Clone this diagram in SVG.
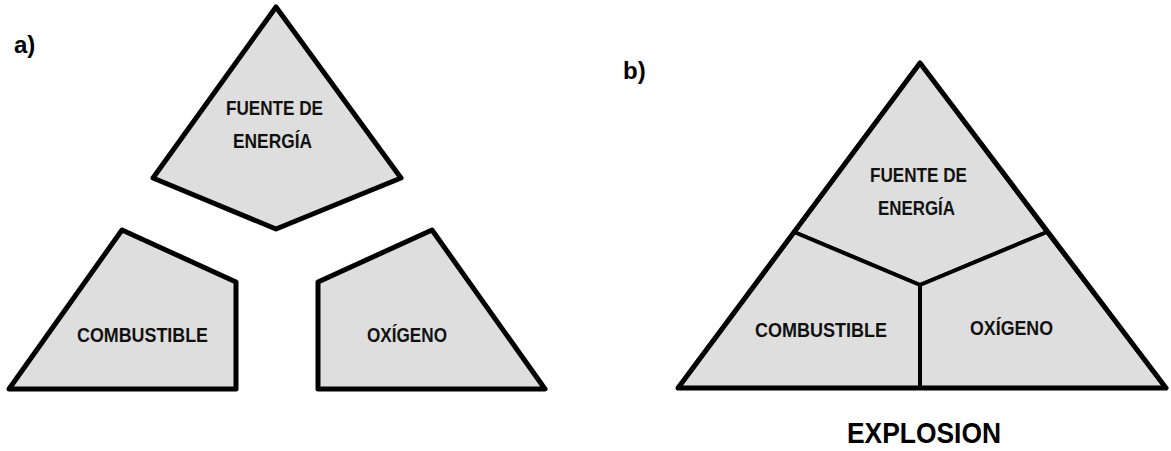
<svg xmlns="http://www.w3.org/2000/svg" width="1171" height="451" viewBox="0 0 1171 451">
<style>
.piece{fill:#dedede;stroke:#000;stroke-width:5;stroke-linejoin:round}
.div{fill:#dedede;stroke:#000;stroke-width:4;stroke-linejoin:round}
.outer{fill:none;stroke:#000;stroke-width:5;stroke-linejoin:round}
.lbl{font-family:"Liberation Sans Narrow","Liberation Sans",Arial,sans-serif;font-weight:bold;font-size:20px;fill:#111;text-anchor:middle}
.tag{font-family:"Liberation Sans","Arial",sans-serif;font-weight:bold;font-size:24px;fill:#000}
.big{font-family:"Liberation Sans Narrow","Liberation Sans",Arial,sans-serif;font-weight:bold;font-size:30px;fill:#000;text-anchor:middle}
</style>
<rect width="1171" height="451" fill="#fff"/>
<g id="label-a"><text class="tag" x="14" y="53">a)</text></g>
<g id="label-b"><text class="tag" x="623" y="79">b)</text></g>

<g id="a-fuente">
<polygon class="piece" points="276,7 401,178 276,229 153,178"/>
<text class="lbl" x="274.5" y="115" textLength="97" lengthAdjust="spacingAndGlyphs">FUENTE DE</text>
<text class="lbl" x="272.5" y="148" textLength="79" lengthAdjust="spacingAndGlyphs">ENERGÍA</text>
</g>
<g id="a-combustible">
<polygon class="piece" points="122,230 236,282 236,389 9,389"/>
<text class="lbl" x="142.5" y="342" textLength="131" lengthAdjust="spacingAndGlyphs">COMBUSTIBLE</text>
</g>
<g id="a-oxigeno">
<polygon class="piece" points="432,230 545,389 318,389 318,282"/>
<text class="lbl" x="407" y="342" textLength="80" lengthAdjust="spacingAndGlyphs">OXÍGENO</text>
</g>

<g id="b-fuente">
<polygon class="div" points="920,63 1047,232 920,285 794,232"/>
<text class="lbl" x="918.5" y="182" textLength="97" lengthAdjust="spacingAndGlyphs">FUENTE DE</text>
<text class="lbl" x="916.5" y="215" textLength="77" lengthAdjust="spacingAndGlyphs">ENERGÍA</text>
</g>
<g id="b-combustible">
<polygon class="div" points="794,232 920,285 920,388 678,388"/>
<text class="lbl" x="821" y="337" textLength="132" lengthAdjust="spacingAndGlyphs">COMBUSTIBLE</text>
</g>
<g id="b-oxigeno">
<polygon class="div" points="920,285 1047,232 1166,388 920,388"/>
<text class="lbl" x="1011.5" y="335" textLength="83" lengthAdjust="spacingAndGlyphs">OXÍGENO</text>
</g>
<g id="b-outline">
<polygon class="outer" points="920,63 1166,388 678,388"/>
</g>
<g id="caption"><text class="big" x="924" y="443" textLength="154" lengthAdjust="spacingAndGlyphs">EXPLOSION</text></g>
<g id="connectors"/>
</svg>
